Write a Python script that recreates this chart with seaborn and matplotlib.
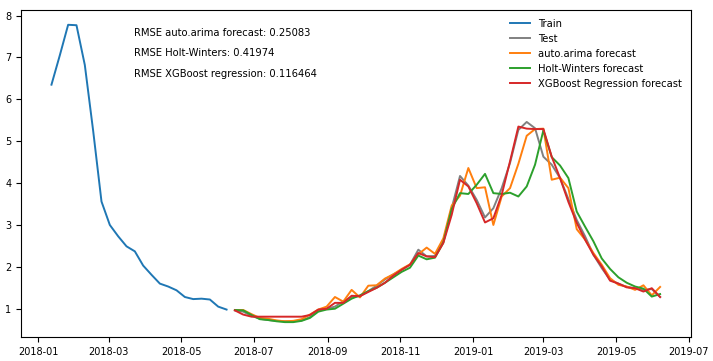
import pandas as pd
import matplotlib
matplotlib.use("Agg")
import matplotlib.pyplot as plt
import matplotlib.dates as mdates
import seaborn as sns

# weekly values
train_dates = pd.date_range("2018-01-12", periods=22, freq="7D")
train_vals = [6.35, 7.05, 7.78, 7.77, 6.82, 5.25, 3.56, 3.00, 2.73, 2.49, 2.37,
              2.03, 1.81, 1.60, 1.53, 1.44, 1.28, 1.23, 1.24, 1.22, 1.05, 0.98]

test_dates = pd.date_range("2018-06-15", periods=52, freq="7D")
test_vals = [0.96, 0.93, 0.83, 0.76, 0.73, 0.71, 0.70, 0.70, 0.72, 0.80, 0.95, 1.00,
             1.05, 1.18, 1.28, 1.30, 1.42, 1.55, 1.70, 1.82, 1.93, 2.05, 2.41, 2.25,
             2.26, 2.62, 3.40, 4.17, 3.94, 3.60, 3.18, 3.40, 3.88, 4.48, 5.27, 5.46,
             5.31, 4.63, 4.44, 4.12, 3.62, 3.12, 2.73, 2.29, 1.97, 1.69, 1.60, 1.52,
             1.49, 1.45, 1.47, 1.28]
arima_vals = [0.97, 0.97, 0.87, 0.78, 0.76, 0.72, 0.70, 0.71, 0.75, 0.86, 0.98, 1.05,
              1.28, 1.17, 1.45, 1.27, 1.55, 1.56, 1.72, 1.82, 1.95, 2.06, 2.30, 2.46,
              2.31, 2.68, 3.46, 3.70, 4.36, 3.88, 3.90, 3.00, 3.68, 3.88, 4.46, 5.13,
              5.29, 5.30, 4.08, 4.13, 3.88, 2.90, 2.65, 2.33, 2.05, 1.73, 1.57, 1.53,
              1.45, 1.56, 1.32, 1.52]
hw_vals = [0.97, 0.96, 0.85, 0.75, 0.73, 0.70, 0.68, 0.68, 0.71, 0.78, 0.93, 0.98,
           1.00, 1.12, 1.24, 1.32, 1.42, 1.50, 1.62, 1.75, 1.88, 1.98, 2.27, 2.18,
           2.22, 2.58, 3.38, 3.76, 3.74, 3.96, 4.22, 3.76, 3.74, 3.77, 3.68, 3.92,
           4.44, 5.26, 4.62, 4.42, 4.12, 3.32, 2.96, 2.61, 2.20, 1.95, 1.75, 1.62,
           1.53, 1.48, 1.29, 1.35]
xgb_vals = [0.96, 0.86, 0.81, 0.81, 0.81, 0.81, 0.81, 0.81, 0.81, 0.85, 0.98, 1.00,
            1.14, 1.14, 1.31, 1.30, 1.40, 1.50, 1.62, 1.79, 1.93, 2.05, 2.33, 2.25,
            2.23, 2.57, 3.24, 4.08, 3.92, 3.52, 3.06, 3.16, 3.72, 4.52, 5.35, 5.30,
            5.29, 5.29, 4.63, 4.12, 3.55, 3.05, 2.65, 2.29, 2.01, 1.67, 1.60, 1.51,
            1.49, 1.41, 1.49, 1.28]

rmse_labels = ["RMSE auto.arima forecast: 0.25083",
               "RMSE Holt-Winters: 0.41974",
               "RMSE XGBoost regression: 0.116464"]

fig = plt.figure(figsize=(7.13, 3.61), dpi=100)
ax = fig.add_axes([0.0295, 0.0665, 0.939, 0.906])

lw = 1.4
sns.lineplot(x=train_dates, y=train_vals, ax=ax, color="tab:blue", lw=lw, label="Train")
sns.lineplot(x=test_dates, y=test_vals, ax=ax, color="gray", lw=lw, label="Test")
sns.lineplot(x=test_dates, y=arima_vals, ax=ax, color="tab:orange", lw=lw, label="auto.arima forecast")
sns.lineplot(x=test_dates, y=hw_vals, ax=ax, color="tab:green", lw=lw, label="Holt-Winters forecast")
sns.lineplot(x=test_dates, y=xgb_vals, ax=ax, color="tab:red", lw=lw, label="XGBoost Regression forecast")

ax.xaxis.set_major_locator(mdates.MonthLocator(bymonth=[1, 3, 5, 7, 9, 11]))
ax.xaxis.set_major_formatter(mdates.DateFormatter("%Y-%m"))
ax.tick_params(labelsize=7)
ax.set_xlabel("")
ax.set_ylabel("")

for i, txt in enumerate(rmse_labels):
    ax.text(0.169, 0.93 - i * 0.063, txt, transform=ax.transAxes, fontsize=7.2, va="center")

ax.legend(loc="upper right", frameon=False, fontsize=7.2)

fig.savefig("out.png", dpi=100)
